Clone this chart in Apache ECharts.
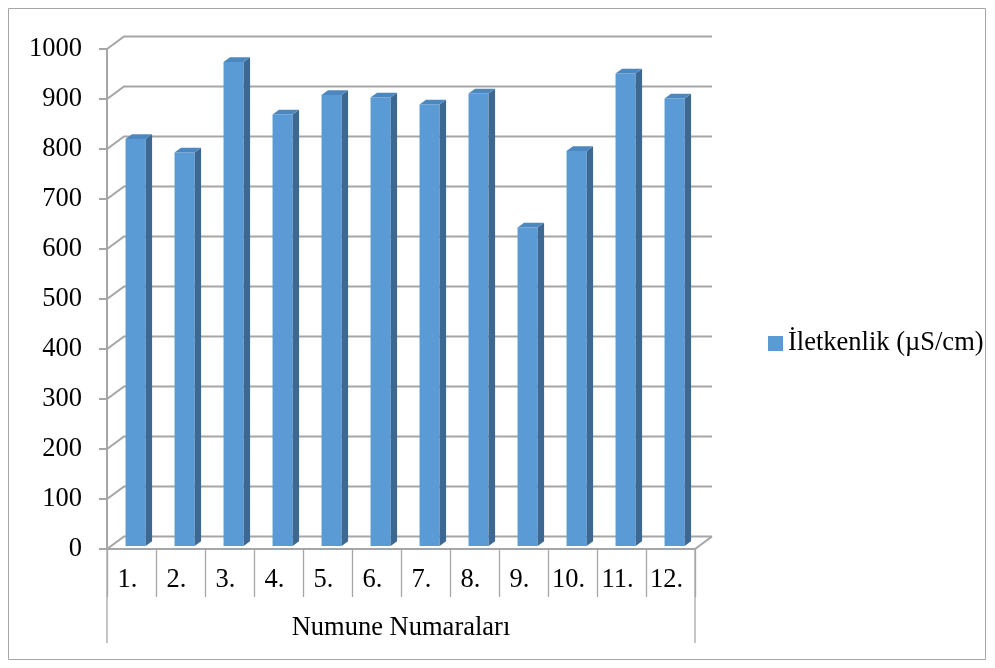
<!DOCTYPE html>
<html>
<head>
<meta charset="utf-8">
<script src="https://cdn.jsdelivr.net/npm/echarts@6/dist/echarts.min.js"></script>
<style>
  html, body { margin: 0; padding: 0; background: #ffffff; }
  #chart { width: 995px; height: 668px; }
</style>
</head>
<body>
<div id="chart"></div>
<script>
// Sample numbers and measured conductivity
const categories = ['1.', '2.', '3.', '4.', '5.', '6.', '7.', '8.', '9.', '10.', '11.', '12.'];
const conductivity = [814, 787, 968, 863, 902, 897, 883, 905, 637, 790, 945, 895];
const yTicks = [0, 100, 200, 300, 400, 500, 600, 700, 800, 900, 1000];
const seriesName = 'İletkenlik (µS/cm)';
const axisTitle = 'Numune Numaraları';

const FONT = 'Liberation Serif, Times New Roman, serif';
const FS = 26.5;
const WALL = '#a6a6a6';

// full depth of the pseudo-3D plot box (pixels)
const DX = 17, DY = -12.5;
// bar placement within the depth
const BAR_FRONT = 0.24, BAR_DEPTH = 0.38, BAR_W = 0.41;

const chart = echarts.init(document.getElementById('chart'));

function wallItem(params, api) {
  const cs = params.coordSys;
  const v = api.value(1);
  const y = api.coord([0, v])[1];
  const x0 = cs.x, x1 = cs.x + cs.width;
  const ls = { stroke: WALL, lineWidth: 2, fill: null };
  const children = [{
    type: 'polyline',
    shape: { points: [[x0 - 8, y], [x0, y], [x0 + DX, y + DY], [x1 + DX, y + DY]] },
    style: ls
  }];
  if (v === 0) {
    children.push({
      type: 'polyline',
      shape: { points: [[x0, y], [x1, y], [x1 + DX, y + DY]] },
      style: ls
    });
    const thin = { stroke: WALL, lineWidth: 1.3 };
    children.push({ type: 'line', shape: { x1: x0, y1: y, x2: x0, y2: y + 94 }, style: thin });
    children.push({ type: 'line', shape: { x1: x1, y1: y, x2: x1, y2: y + 94 }, style: thin });
  }
  return { type: 'group', children: children };
}

function barItem(params, api) {
  const i = api.value(0);
  const v = api.value(1);
  const base = api.coord([i, 0]);
  const top = api.coord([i, v]);
  const band = api.size([1, 0])[0];
  const w = band * BAR_W;
  const fx = base[0] + DX * BAR_FRONT - w / 2;
  const fy0 = top[1] + DY * BAR_FRONT;
  const fy1 = base[1] + DY * BAR_FRONT;
  const ddx = DX * BAR_DEPTH, ddy = DY * BAR_DEPTH;
  return {
    type: 'group',
    children: [
      {
        type: 'rect',
        shape: { x: fx, y: fy0, width: w, height: fy1 - fy0 },
        style: { fill: '#5b9bd5' }
      },
      {
        type: 'polygon',
        shape: { points: [[fx + w, fy0], [fx + w + ddx, fy0 + ddy], [fx + w + ddx, fy1 + ddy], [fx + w, fy1]] },
        style: { fill: '#3c6892' }
      },
      {
        type: 'polygon',
        shape: { points: [[fx, fy0], [fx + ddx, fy0 + ddy], [fx + w + ddx, fy0 + ddy], [fx + w, fy0]] },
        style: { fill: '#4d87bf' }
      }
    ]
  };
}

chart.setOption({
  animation: false,
  backgroundColor: '#ffffff',
  textStyle: { fontFamily: FONT },
  graphic: [{
    type: 'rect',
    shape: { x: 8.5, y: 8.5, width: 977, height: 651 },
    style: { fill: null, stroke: '#a6a6a6', lineWidth: 1 },
    silent: true
  }],
  legend: {
    data: [{ name: seriesName, icon: 'rect' }],
    left: 768,
    top: 330,
    padding: 0,
    itemWidth: 15,
    itemHeight: 15,
    itemGap: 5,
    textStyle: { fontFamily: FONT, fontSize: FS, color: '#000000', padding: [0, 0, 0, 0] }
  },
  grid: { left: 107, top: 49, width: 588, height: 500, containLabel: false },
  xAxis: {
    type: 'category',
    data: categories,
    boundaryGap: true,
    axisLine: { show: false },
    axisTick: { show: true, interval: 0, length: 48, lineStyle: { color: WALL, width: 1.3 } },
    axisLabel: { interval: 0, margin: 18, fontFamily: FONT, fontSize: FS, color: '#000000', padding: [0, 8, 0, 0] },
    name: axisTitle,
    nameLocation: 'middle',
    nameGap: 66,
    nameTextStyle: { fontFamily: FONT, fontSize: FS, color: '#000000' },
    splitLine: { show: false }
  },
  yAxis: {
    type: 'value',
    min: 0,
    max: 1000,
    interval: 100,
    axisLine: { show: true, lineStyle: { color: WALL, width: 2 } },
    axisTick: { show: false },
    axisLabel: { margin: 25, fontFamily: FONT, fontSize: FS, color: '#000000', formatter: v => String(v) },
    splitLine: { show: false }
  },
  series: [
    {
      name: 'walls',
      type: 'custom',
      renderItem: wallItem,
      data: yTicks.map(v => [0, v]),
      silent: true,
      z: 1
    },
    {
      name: seriesName,
      type: 'custom',
      renderItem: barItem,
      itemStyle: { color: '#5b9bd5' },
      data: conductivity.map((v, i) => [i, v]),
      z: 3
    }
  ]
});
</script>
</body>
</html>
